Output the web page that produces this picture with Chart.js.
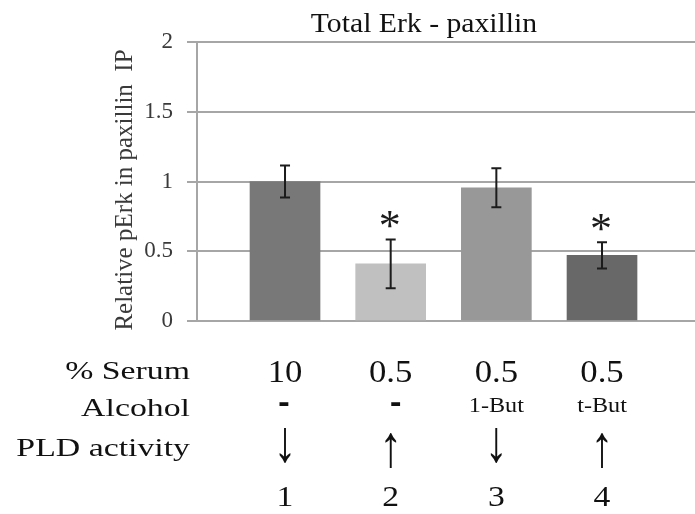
<!DOCTYPE html>
<html lang="en">
<head>
<meta charset="UTF-8">
<title>Total Erk - paxillin</title>
<script src="https://cdn.jsdelivr.net/npm/chart.js@4.4.0/dist/chart.umd.min.js"></script>
<style>
  html, body { margin: 0; padding: 0; background: #fff; }
  #wrap { width: 695px; height: 514px; }
</style>
</head>
<body>
<div id="wrap"><canvas id="erkChart" width="695" height="514"></canvas></div>
<script>
// lanes 1-4, relative pErk with error bars
const lanes = ['1', '2', '3', '4'];
const pErk = [1.00, 0.41, 0.955, 0.47];
const pErkErr = [0.115, 0.175, 0.14, 0.094];
const significant = [false, true, false, true];
const barColors = ['#787878', '#c0c0c0', '#989898', '#686868'];
const yTicks = [0, 0.5, 1, 1.5, 2];

// condition rows under the plot
const rowLabels = ['% Serum', 'Alcohol', 'PLD activity'];
const serum = ['10', '0.5', '0.5', '0.5'];
const alcohol = ['-', '-', '1-But', 't-But'];
const pldActivity = ['↓', '↑', '↓', '↑'];

const SERIF = '"Liberation Serif", "Times New Roman", serif';

function stretchText(ctx, text, x, y, font, sx, align) {
  ctx.save();
  ctx.font = font;
  ctx.textAlign = align || 'center';
  ctx.textBaseline = 'alphabetic';
  ctx.translate(x, y);
  ctx.scale(sx, 1);
  ctx.fillText(text, 0, 0);
  ctx.restore();
}

// draws a glyph with its ink box centred on (x, cy); inkH > 0 stretches it vertically to that height
function glyphAt(ctx, text, x, cy, font, inkH) {
  ctx.save();
  ctx.font = font;
  ctx.textAlign = 'center';
  ctx.textBaseline = 'alphabetic';
  const m = ctx.measureText(text);
  const h = m.actualBoundingBoxAscent + m.actualBoundingBoxDescent;
  const sy = inkH > 0 ? inkH / h : 1;
  ctx.translate(x, cy);
  ctx.scale(1, sy);
  ctx.fillText(text, 0, (m.actualBoundingBoxAscent - m.actualBoundingBoxDescent) / 2);
  ctx.restore();
}

const errorBars = {
  id: 'errorBars',
  afterDatasetsDraw(chart) {
    const ctx = chart.ctx;
    const ys = chart.scales.y;
    const meta = chart.getDatasetMeta(0);
    ctx.save();
    ctx.strokeStyle = '#1c1c1c';
    ctx.fillStyle = '#1c1c1c';
    ctx.lineWidth = 2;
    meta.data.forEach((bar, i) => {
      const top = ys.getPixelForValue(pErk[i] + pErkErr[i]);
      const bot = ys.getPixelForValue(pErk[i] - pErkErr[i]);
      ctx.beginPath();
      ctx.moveTo(bar.x, top); ctx.lineTo(bar.x, bot);
      ctx.moveTo(bar.x - 5, top); ctx.lineTo(bar.x + 5, top);
      ctx.moveTo(bar.x - 5, bot); ctx.lineTo(bar.x + 5, bot);
      ctx.stroke();

      // significance mark above the error bar
      if (significant[i]) {
        glyphAt(ctx, '*', bar.x - 1, top - 20, '44px ' + SERIF, 0);
      }
    });
    ctx.restore();
  }
};

const captions = {
  id: 'captions',
  afterDraw(chart) {
    const ctx = chart.ctx;
    const meta = chart.getDatasetMeta(0);
    ctx.save();

    // chart title
    ctx.fillStyle = '#111';
    stretchText(ctx, 'Total Erk - paxillin', 424, 32, '27px ' + SERIF, 1.1, 'center');

    // y axis title
    ctx.fillStyle = '#3a3a3a';
    ctx.save();
    ctx.translate(125, 190);
    ctx.rotate(-Math.PI / 2);
    ctx.font = '25px ' + SERIF;
    ctx.textAlign = 'center';
    ctx.textBaseline = 'middle';
    ctx.fillText('Relative pErk in paxillin  IP', 0, 0);
    ctx.restore();

    // condition table
    ctx.fillStyle = '#111';
    const rowBase = [379, 416, 456];
    rowLabels.forEach((t, r) => {
      stretchText(ctx, t, 190, rowBase[r], '26px ' + SERIF, 1.3, 'right');
    });
    meta.data.forEach((bar, i) => {
      const x = bar.x;
      stretchText(ctx, serum[i], x, 382, '31px ' + SERIF, 1.12, 'center');
      if (alcohol[i] === '-') {
        glyphAt(ctx, '-', x + (i === 1 ? 5 : -1), 404, 'bold 34px ' + SERIF, 4);
      } else {
        stretchText(ctx, alcohol[i], x, 412, '21px ' + SERIF, 1.15, 'center');
      }
      const up = pldActivity[i] === '↑';
      glyphAt(ctx, pldActivity[i], x, up ? 451 : 446, '46px ' + SERIF, 36);
      stretchText(ctx, lanes[i], x, 506, '30px ' + SERIF, 1.12, 'center');
    });
    ctx.restore();
  }
};

new Chart(document.getElementById('erkChart'), {
  type: 'bar',
  data: {
    datasets: [{
      data: lanes.map((l, i) => ({ x: i + 1, y: pErk[i] })),
      backgroundColor: barColors,
      borderWidth: 0,
      barThickness: 70
    }]
  },
  options: {
    responsive: false,
    animation: false,
    layout: { padding: { top: 42, left: 0, right: 0, bottom: 193 } },
    plugins: {
      legend: { display: false },
      tooltip: { enabled: false },
      title: { display: false }
    },
    scales: {
      x: {
        type: 'linear',
        display: false,
        offset: false,
        min: 0.167,
        max: 4.88
      },
      y: {
        min: 0,
        max: 2,
        afterFit(scale) { scale.width = 197; },
        afterBuildTicks(scale) { scale.ticks = yTicks.map(v => ({ value: v })); },
        grid: { color: '#a6a6a6', lineWidth: 2, tickLength: 10, drawTicks: true },
        border: { display: true, color: '#a6a6a6', width: 2 },
        ticks: {
          padding: 14,
          color: '#3a3a3a',
          font: { family: SERIF, size: 23 },
          callback: v => String(v)
        }
      }
    }
  },
  plugins: [errorBars, captions]
});
</script>
</body>
</html>
